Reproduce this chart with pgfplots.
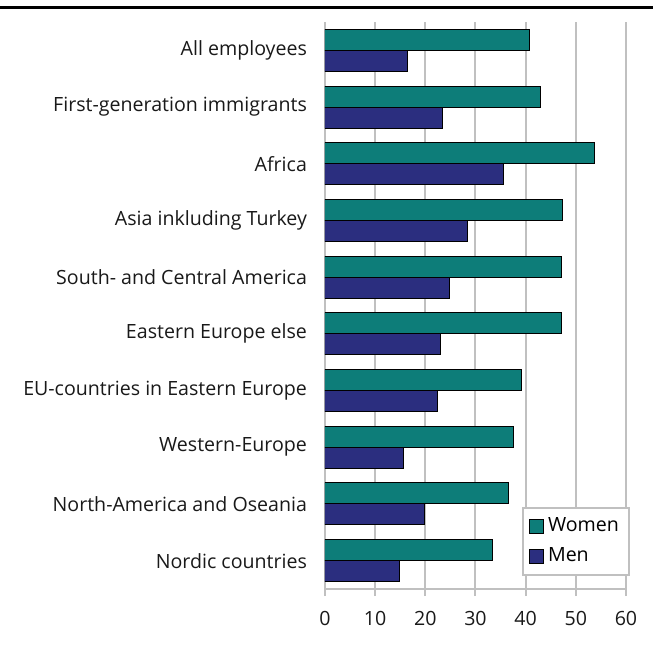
\documentclass[border=0pt]{standalone}
\usepackage{pgfplots}
\pgfplotsset{compat=1.18}
\usepackage{fontspec}
\setmainfont{Open Sans}

\definecolor{women}{RGB}{13,125,121}
\definecolor{men}{RGB}{43,46,127}
\definecolor{gridgray}{RGB}{192,192,192}

\begin{document}
\begin{tikzpicture}
\begin{axis}[
    at={(0,0)}, anchor=south west,
    width=150.5pt, height=283.5pt,
    scale only axis,
    xbar=0pt,
    bar width=10.5pt,
    y dir=reverse,
    xmin=0, xmax=60,
    ymin=-0.5, ymax=9.5,
    xtick={0,10,...,60},
    ytick={0,...,9},
    yticklabels={All employees,First-generation immigrants,Africa,Asia inkluding Turkey,South- and Central America,Eastern Europe else,EU-countries in Eastern Europe,Western-Europe,North-America and Oseania,Nordic countries},
    minor ytick={-0.5,0.5,...,9.5},
    axis x line*=bottom,
    axis y line*=left,
    axis line style={gridgray, line width=1pt, -},
    tick align=outside,
    tick style={gridgray, line width=1pt},
    major tick length=3.5pt,
    minor tick length=4pt,
    ytick style={draw=none},
    minor tick style={gridgray, line width=1pt},
    xmajorgrids,
    grid style={gridgray, line width=1pt},
    tick label style={font=\fontsize{9.8}{12}\selectfont, text=black!90},
    /pgf/number format/assume math mode=true,
    yticklabel style={xshift=-2pt},
    xticklabel style={yshift=-4pt},
    legend style={
        at={(1.013,0.023)}, anchor=south east,
        draw=gridgray, line width=1pt,
        font=\fontsize{9.8}{12}\selectfont,
        row sep=2.5pt, inner xsep=3pt, inner ysep=3pt,
        legend cell align=left,
    },
    legend image code/.code={
        \draw[#1, line width=0.5pt] (0pt,-3.5pt) rectangle (7pt,3.5pt);
    },
]
\addplot[fill=women, draw=black, line width=0.5pt, bar shift=5.25pt] coordinates {
    (40.7,0) (43.0,1) (53.7,2) (47.4,3) (47.1,4)
    (47.1,5) (39.1,6) (37.6,7) (36.6,8) (33.4,9)
};
\addplot[fill=men, draw=black, line width=0.5pt, bar shift=-5.25pt] coordinates {
    (16.5,0) (23.5,1) (35.5,2) (28.4,3) (24.8,4)
    (23.0,5) (22.5,6) (15.7,7) (19.9,8) (14.8,9)
};
\legend{Women,Men}
\end{axis}
\draw[black, line width=1.5pt] (-162.5pt,290.75pt) -- (164pt,290.75pt);
\pgfresetboundingbox
\path[use as bounding box] (-162.5pt,-29.5pt) rectangle (164pt,294.5pt);
\end{tikzpicture}
\end{document}
